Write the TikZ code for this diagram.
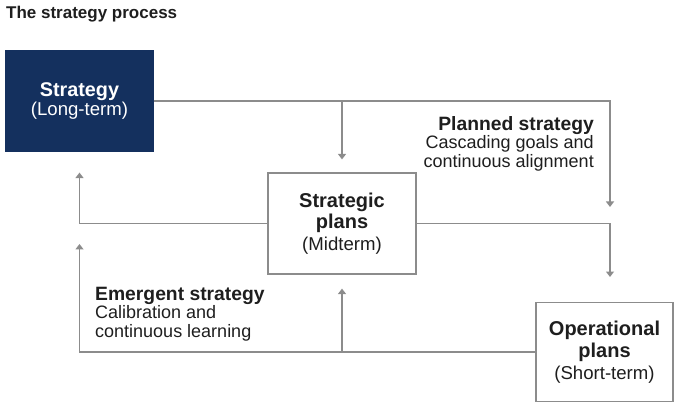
\documentclass[tikz,border=0pt]{standalone}
\usepackage{fontspec}
\setmainfont{Liberation Sans}
\usetikzlibrary{arrows.meta}
\definecolor{navy}{HTML}{14305E}
\definecolor{linegray}{HTML}{8C8C8C}
\definecolor{ink}{HTML}{1E1E1E}
\newcommand{\head}[1]{{\bfseries\fontsize{19.3}{18.5}\selectfont #1}}

\begin{document}
\begin{tikzpicture}[x=1pt,y=-1pt,
  box/.style={draw=linegray, line width=1.2pt, fill=white, text=ink, align=center, inner sep=0pt},
  flow/.style={draw=linegray, line width=1.4pt, -{Triangle[width=8pt,length=5.5pt]}},
  note/.style={text=ink, inner sep=0pt, font=\fontsize{18}{18.5}\selectfont}]
\useasboundingbox (0,0) rectangle (674,403);

\node[anchor=west, text=ink, inner sep=0pt, font=\bfseries\fontsize{17}{18}\selectfont] (title) at (6,14) {The strategy process};

\node[box, fill=navy, draw=navy, text=white, minimum width=147pt, minimum height=100pt,
  font=\fontsize{18.6}{19.5}\selectfont] (strat) at (79.5,101) {{\bfseries\fontsize{19.8}{19.5}\selectfont Strategy}\\(Long-term)};
\node[box, minimum width=148pt, minimum height=101pt,
  font=\fontsize{18.6}{21.5}\selectfont] (sp) at (342,223.5) {{\bfseries\fontsize{20}{21.5}\selectfont Strategic}\\{\bfseries\fontsize{20}{21.5}\selectfont plans}\\(Midterm)};
\node[box, minimum width=137pt, minimum height=99pt,
  font=\fontsize{18.6}{22}\selectfont] (op) at (604.5,352) {{\bfseries\fontsize{20}{22}\selectfont Operational}\\{\bfseries\fontsize{20}{22}\selectfont plans}\\(Short-term)};

% planned strategy, top down
\coordinate (pdrop) at (610,207);
\coordinate (odrop) at (610,277);
\draw[flow] (strat.east) -| (pdrop);
\draw[flow] (strat.east -| sp.north) -- ([yshift=13pt]sp.north);
\draw[flow] (sp.east) -| (odrop);

% emergent strategy, bottom up
\coordinate (erise) at (79.5,244);
\draw[flow] (sp.west) -| ([yshift=-21pt]strat.south);
\draw[flow] (op.west) -| (erise);
\draw[flow] (op.west -| sp.south) -- ([yshift=-14pt]sp.south);

\node[note, anchor=north east, align=right] (planned) at (594,116) {\head{Planned strategy}\\Cascading goals and\\continuous alignment};
\node[note, anchor=north west, align=left] (emergent) at (95,287) {\head{Emergent strategy}\\Calibration and\\continuous learning};
\end{tikzpicture}
\end{document}
